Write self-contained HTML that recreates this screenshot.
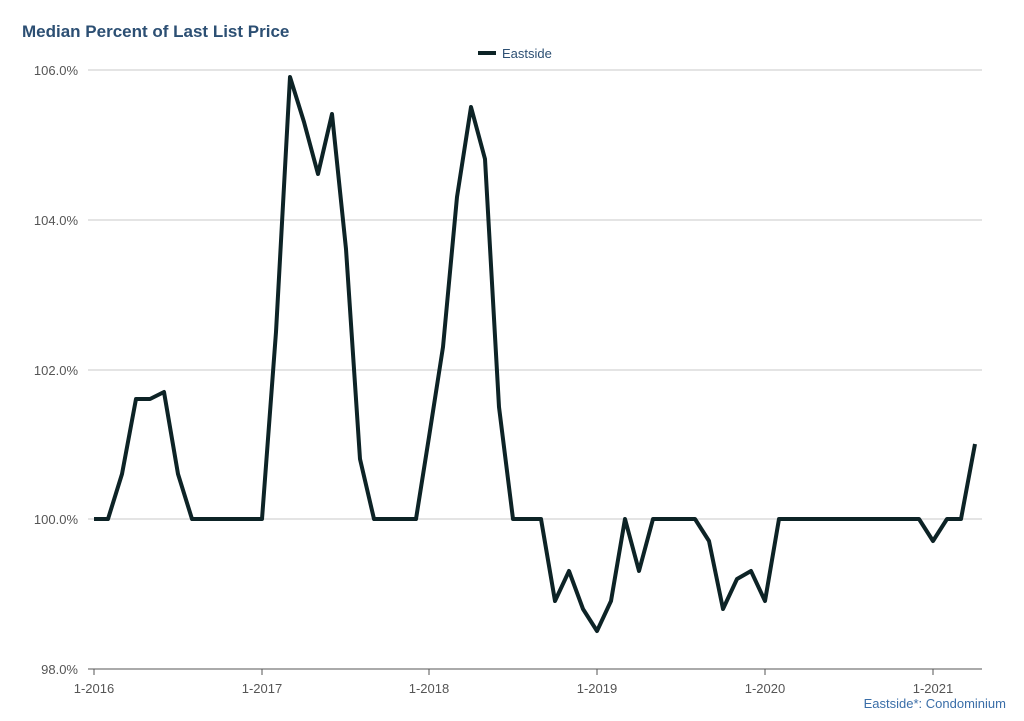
<!DOCTYPE html>
<html><head><meta charset="utf-8"><style>
body{margin:0;background:#fff;width:1024px;height:716px;overflow:hidden;font-family:"Liberation Sans",Arial,sans-serif}
</style></head><body>
<svg width="1024" height="716" xmlns="http://www.w3.org/2000/svg" font-family="Liberation Sans, Arial, sans-serif">
<text x="22" y="37" font-size="17" font-weight="bold" fill="#2c4f73">Median Percent of Last List Price</text>
<line x1="478" y1="53" x2="496" y2="53" stroke="#0d2326" stroke-width="4"/>
<text x="502" y="58" font-size="13" fill="#2c4f73">Eastside</text>
<g stroke="#c8c8c8" stroke-width="1">
<line x1="88" y1="70" x2="982" y2="70"/>
<line x1="88" y1="220" x2="982" y2="220"/>
<line x1="88" y1="370" x2="982" y2="370"/>
<line x1="88" y1="519" x2="982" y2="519"/>
</g>
<line x1="88" y1="669" x2="982" y2="669" stroke="#555" stroke-width="1"/>
<g stroke="#555" stroke-width="1">
<line x1="94" y1="669" x2="94" y2="675"/><line x1="262" y1="669" x2="262" y2="675"/>
<line x1="429" y1="669" x2="429" y2="675"/><line x1="597" y1="669" x2="597" y2="675"/>
<line x1="765" y1="669" x2="765" y2="675"/><line x1="933" y1="669" x2="933" y2="675"/>
</g>
<g font-size="13" fill="#555" text-anchor="end">
<text x="78" y="75">106.0%</text><text x="78" y="225">104.0%</text>
<text x="78" y="375">102.0%</text><text x="78" y="524">100.0%</text>
<text x="78" y="674">98.0%</text>
</g>
<g font-size="13" fill="#555" text-anchor="middle">
<text x="94" y="693">1-2016</text><text x="262" y="693">1-2017</text>
<text x="429" y="693">1-2018</text><text x="597" y="693">1-2019</text>
<text x="765" y="693">1-2020</text><text x="933" y="693">1-2021</text>
</g>
<text x="1006" y="708" font-size="13" fill="#3a6ea8" text-anchor="end">Eastside*: Condominium</text>
<polyline fill="none" stroke="#0d2326" stroke-width="4" stroke-linejoin="round" points="
94,519 108,519 122,474 136,399 150,399 164,392 178,474 192,519 206,519 220,519 234,519 248,519
262,519 276,332 290,77 304,122 318,174 332,114 346,249 360,459 374,519 388,519 402,519 416,519
429,437 443,347 457,197 471,107 485,159 499,407 513,519 527,519 541,519 555,601 569,571 583,609
597,631 611,601 625,519 639,571 653,519 667,519 681,519 695,519 709,541 723,609 737,579 751,571
765,601 779,519 793,519 807,519 821,519 835,519 849,519 863,519 877,519 891,519 905,519 919,519
933,541 947,519 961,519 975,444"/>
</svg>
</body></html>
